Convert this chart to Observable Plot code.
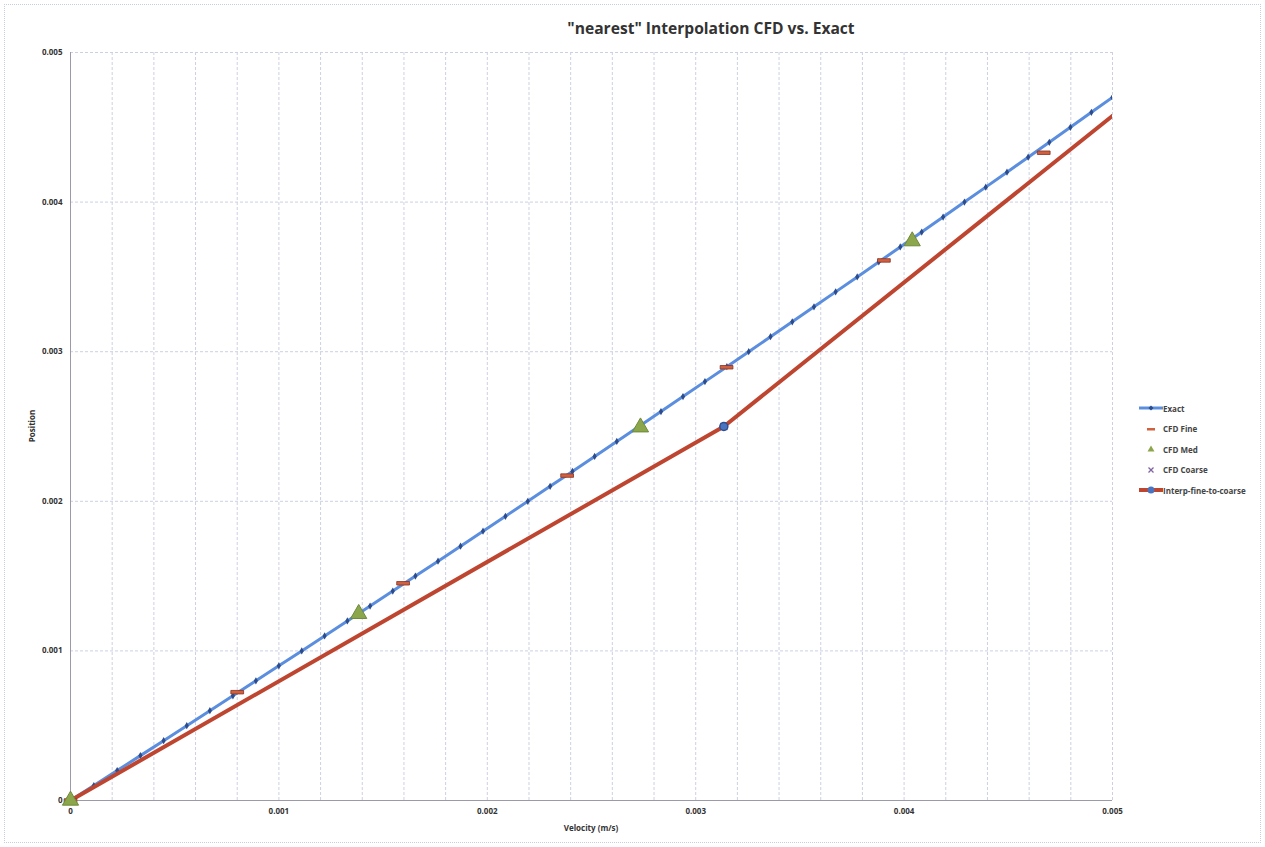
<!DOCTYPE html>
<html><head><meta charset="utf-8">
<script src="https://cdn.jsdelivr.net/npm/d3@7"></script>
<script src="https://cdn.jsdelivr.net/npm/@observablehq/plot@0.6"></script>
<style>
body{margin:0;background:#fff;font-family:"Open Sans",sans-serif;}
#wrap{position:relative;width:1265px;height:847px;overflow:hidden;background:#fff;}
#frame{position:absolute;left:4px;top:4px;right:4px;bottom:4px;border:1px dotted #c9cbe0;pointer-events:none;}
#title{position:absolute;top:17px;left:461px;width:500px;text-align:center;font-weight:bold;font-size:15.6px;color:#333;}
#ylab{position:absolute;left:31px;top:426px;transform:translate(-50%,-50%) rotate(-90deg);font-size:8px;font-weight:bold;color:#333;}
#xlab{position:absolute;left:591px;top:822px;transform:translateX(-50%);font-size:8px;font-weight:bold;color:#333;}
#legend{position:absolute;left:1139px;top:398px;font-size:8px;font-weight:bold;color:#444;}
#legend div{height:20.5px;display:flex;align-items:center;}
#legend svg{width:24px;height:12px;margin-right:0px;}
#plot{position:absolute;left:0;top:0;}
</style>
</head><body>
<div id="wrap">
<div id="plot"></div>
<div id="frame"></div>
<div id="title">"nearest" Interpolation CFD vs. Exact</div>
<div id="ylab">Position</div>
<div id="xlab">Velocity (m/s)</div>
<div id="legend"></div>
</div>
<script>
// ---- data ----
const exactVel = [0,0.000112,0.000224,0.0003355,0.0004468,0.0005579,0.0006687,0.0007793,0.0008897,0.0009998,
  0.0011096,0.0012192,0.0013285,0.0014376,0.0015465,0.0016551,0.0017635,0.0018716,0.0019794,0.002087,
  0.0021944,0.0023015,0.0024084,0.002515,0.0026214,0.0027275,0.0028334,0.002939,0.0030444,0.0031495,
  0.0032544,0.003359,0.0034634,0.0035676,0.0036715,0.0037751,0.0038785,0.0039816,0.0040845,0.0041872,
  0.0042896,0.0043918,0.0044937,0.0045953,0.0046967,0.0047979,0.0048988,0.0049995,0.0050999];
const exactPos = [0,0.0001,0.0002,0.0003,0.0004,0.0005,0.0006,0.0007,0.0008,0.0009,
  0.001,0.0011,0.0012,0.0013,0.0014,0.0015,0.0016,0.0017,0.0018,0.0019,
  0.002,0.0021,0.0022,0.0023,0.0024,0.0025,0.0026,0.0027,0.0028,0.0029,
  0.003,0.0031,0.0032,0.0033,0.0034,0.0035,0.0036,0.0037,0.0038,0.0039,
  0.004,0.0041,0.0042,0.0043,0.0044,0.0045,0.0046,0.0047,0.0048];
const fineVel = [0,0.0008,0.001596,0.002383,0.003148,0.003903,0.00467];
const finePos = [0,0.000724,0.001452,0.002172,0.002896,0.00361,0.00433];
const medVel = [0,0.001383,0.002735,0.004039];
const medPos = [0,0.001248,0.002495,0.003739];
const coarseVel = [0,0.003135];
const coarsePos = [0,0.0025];
const interpVel = [0,0.003135,0.00538];
const interpPos = [0,0.0025,0.005];
const xTicks = [0,0.001,0.002,0.003,0.004,0.005];
const yTicks = [0,0.001,0.002,0.003,0.004,0.005];
const xGrid = [0,0.0002,0.0004,0.0006,0.0008,0.001,0.0012,0.0014,0.0016,0.0018,0.002,0.0022,0.0024,0.0026,0.0028,0.003,0.0032,0.0034,0.0036,0.0038,0.004,0.0042,0.0044,0.0046,0.0048,0.005];
const seriesNames = ["Exact","CFD Fine","CFD Med","CFD Coarse","Interp-fine-to-coarse"];

const zip = (xs, ys) => xs.map((x,i)=>({x, y: ys[i]}));
const exact = zip(exactVel, exactPos);
const fine = zip(fineVel, finePos);
const med = zip(medVel, medPos);
const coarse = zip(coarseVel, coarsePos);
const interp = zip(interpVel, interpPos);

const fmt = d => d === 0 ? "0" : d3.format(".3f")(d);
const dash = {draw(ctx, size){ const w = Math.sqrt(size)*1.2, h = Math.sqrt(size)*0.33; ctx.rect(-w/2,-h/2,w,h); }};
const cross = {draw(ctx, size){ const r = Math.sqrt(size)/2; ctx.moveTo(-r,-r); ctx.lineTo(r,r); ctx.moveTo(r,-r); ctx.lineTo(-r,r); }};

const gridColor = "#cdd0e2";
const plot = Plot.plot({
  width: 1265, height: 847,
  marginLeft: 70, marginRight: 153, marginTop: 52, marginBottom: 47,
  x: {domain: [0, 0.005], ticks: xTicks, tickFormat: fmt, tickSize: 0, tickPadding: 8, label: null},
  y: {domain: [0, 0.005], ticks: yTicks, tickFormat: fmt, tickSize: 0, tickPadding: 8, label: null},
  style: {fontFamily: "'Open Sans', sans-serif", fontSize: "8px", fontWeight: "bold", color: "#333", background: "transparent"},
  marks: [
    Plot.ruleX(xGrid, {stroke: gridColor, strokeWidth: 1, strokeDasharray: "3,2"}),
    Plot.ruleY(yTicks, {stroke: gridColor, strokeWidth: 1, strokeDasharray: "3,2"}),
    Plot.ruleY([0], {stroke: "#9a9aa8"}),
    Plot.ruleX([0], {stroke: "#9a9aa8"}),
    Plot.line(exact, {x: "x", y: "y", stroke: "#5b8ede", strokeWidth: 3, clip: true}),
    Plot.dot(exact, {x: "x", y: "y", symbol: "diamond", r: 2.2, fill: "#2c4c8c", clip: true}),
    Plot.dot(coarse, {x: "x", y: "y", symbol: cross, r: 4, stroke: "#8064a2", strokeWidth: 1.5}),
    Plot.line(interp, {x: "x", y: "y", stroke: "#be4630", strokeWidth: 4, clip: true}),
    Plot.dot(interp, {x: "x", y: "y", r: 4, fill: "#4a74c0", stroke: "#2e4f90", clip: true}),
    Plot.dot(fine, {x: "x", y: "y", symbol: dash, r: 6, fill: "#d0603e", stroke: "#8a3020", strokeWidth: 0.8}),
    Plot.dot(med, {x: "x", y: "y", symbol: "triangle", r: 6, fill: "#8ca64c", stroke: "#6d8a38", strokeWidth: 1})
  ]
});
document.getElementById("plot").appendChild(plot);

// legend
const samples = [
  `<line x1="0" y1="6" x2="24" y2="6" stroke="#5b8ede" stroke-width="3"/><path d="M12,3.5 L14.5,6 L12,8.5 L9.5,6Z" fill="#2c4c8c"/>`,
  `<rect x="8" y="5" width="8" height="2.5" fill="#d0603e"/>`,
  `<path d="M12,2.5 L15.5,8.5 L8.5,8.5Z" fill="#8ca64c"/>`,
  `<path d="M9.5,3.5 L14.5,8.5 M14.5,3.5 L9.5,8.5" stroke="#8064a2" stroke-width="1.3"/>`,
  `<line x1="0" y1="6" x2="24" y2="6" stroke="#be4630" stroke-width="4"/><circle cx="12" cy="6" r="3.5" fill="#4a74c0"/>`
];
document.getElementById("legend").innerHTML = seriesNames.map((n,i)=>
  `<div><svg viewBox="0 0 24 12">${samples[i]}</svg><span>${n}</span></div>`).join("");
</script>
</body></html>
